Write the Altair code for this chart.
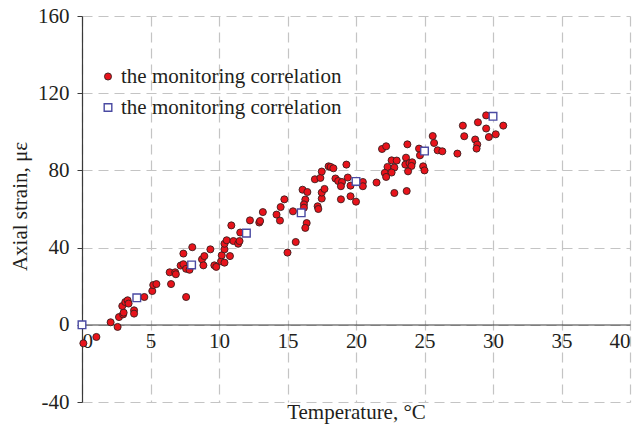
import altair as alt
import pandas as pd

# measured points (temperature °C, axial strain με)
temp_measured = [0.1, 1.05, 2.09, 2.6, 2.7, 3.0, 3.04, 2.94, 3.16, 3.33, 3.4, 3.8, 3.8, 4.55,
                 5.13, 5.2, 5.43, 6.5, 6.4, 6.8, 6.85, 7.6, 7.2, 7.4, 7.6, 7.85, 7.4, 8.05,
                 8.76, 8.93, 8.86, 9.37, 9.66, 9.8, 10.15, 10.2, 10.4, 10.4, 10.4, 10.56, 10.8,
                 10.9, 11.05, 11.4, 11.5, 11.55, 12.26, 12.94, 13.0, 13.2, 14.2, 14.45, 14.5,
                 14.77, 15.4, 15.0, 15.6, 16.4, 16.3, 16.1, 16.45, 16.3, 16.2, 16.2, 17.2, 17.25,
                 17.5, 17.5, 17.7, 17.0, 17.4, 17.5, 18.0, 18.15, 18.35, 18.5, 18.7, 18.98, 18.9,
                 19.3, 19.4, 19.6, 18.9, 19.6, 20.0, 20.5, 20.5, 21.5, 21.9, 22.2, 22.6, 22.97,
                 22.3, 22.8, 22.1, 22.6, 22.2, 22.8, 23.75, 24.6, 24.67, 23.65, 23.6, 23.9, 24.1,
                 24.05, 23.8, 24.9, 25.0, 23.7, 25.6, 25.7, 25.96, 26.3, 27.4, 27.8, 27.9, 28.9,
                 28.7, 28.85, 28.8, 29.5, 29.5, 29.7, 30.2, 30.75]
strain_measured = [-9.6, -6.3, 1.3, -1.1, 4.0, 5.4, 6.3, 9.7, 11.8, 12.7, 11.0, 7.5, 5.8, 14.4,
                   17.5, 20.6, 21.1, 21.1, 27.2, 27.2, 26.2, 14.4, 30.7, 31.4, 29.0, 28.5, 36.9, 40.2,
                   33.9, 35.6, 30.8, 39.1, 30.8, 30.0, 32.9, 36.0, 32.2, 39.1, 42.0, 43.8, 35.6,
                   51.5, 43.4, 42.0, 43.4, 47.8, 54.1, 53.0, 53.8, 58.4, 57.1, 54.0, 61.0,
                   65.0, 58.8, 37.4, 42.9, 52.7, 50.2, 70.0, 68.8, 64.9, 62.4, 60.7, 61.4, 60.0,
                   65.4, 68.5, 70.4, 75.4, 76.1, 79.4, 82.1, 81.8, 81.1, 75.8, 74.5, 74.0, 71.8,
                   83.0, 76.3, 72.1, 65.0, 66.6, 63.8, 74.0, 71.8, 73.7, 91.1, 92.5, 85.2, 85.1,
                   81.8, 81.5, 78.7, 78.9, 76.6, 68.3, 93.5, 91.3, 87.8, 86.6, 83.0, 83.8, 84.2,
                   82.3, 79.5, 82.1, 80.0, 69.3, 97.8, 94.2, 90.4, 89.9, 88.7, 103.2, 97.7, 104.9,
                   96.0, 93.4, 91.3, 108.5, 101.7, 97.3, 98.7, 103.2]

# correlation points
temp_corr = [0, 4, 8, 12, 16, 20, 25, 30]
strain_corr = [0, 14, 31, 47.5, 58, 74.3, 90, 108]

series_names = ["a", "b"]
legend_label = "the monitoring correlation"
x_ticks = [0, 5, 10, 15, 20, 25, 30, 35, 40]
y_ticks = [-40, 0, 40, 80, 120, 160]

df = pd.concat([
    pd.DataFrame({"T": temp_measured, "S": strain_measured, "series": series_names[0]}),
    pd.DataFrame({"T": temp_corr, "S": strain_corr, "series": series_names[1]}),
], ignore_index=True)

FONT = "'Liberation Serif', 'Times New Roman', Times, serif"
TXT = "#231f20"

leg = alt.Legend(
    title=None, orient="none", legendX=15.5, legendY=50, padding=0,
    labelExpr=f"'{legend_label}'", labelFont=FONT, labelFontSize=21, labelColor=TXT,
    labelOffset=2.5, labelLimit=0, rowPadding=9,
)

chart = alt.Chart(df).mark_point(opacity=1).encode(
    x=alt.X("T:Q", scale=alt.Scale(domain=[0, 40], nice=False, zero=False),
            axis=alt.Axis(values=x_ticks, title="Temperature, °C", offset=-77.5,
                          tickSize=0, labelPadding=6, titleY=88, titleBaseline="middle",
                          titleAlign="center", labelExpr="datum.value + ''")),
    y=alt.Y("S:Q", scale=alt.Scale(domain=[-40, 160], nice=False, zero=False),
            axis=alt.Axis(values=y_ticks, title="Axial strain, με", tickSize=5,
                          labelPadding=8, titleX=-62, titleY=190, titleAngle=-90,
                          titleBaseline="middle", titleAlign="center",
                          labelExpr="datum.value + ''")),
    shape=alt.Shape("series:N", scale=alt.Scale(domain=series_names, range=["circle", "square"]), legend=leg),
    fill=alt.Fill("series:N", scale=alt.Scale(domain=series_names, range=["#e8131b", "#ffffff"]), legend=leg),
    stroke=alt.Stroke("series:N", scale=alt.Scale(domain=series_names, range=["#3a1e1e", "#4a4aa2"]), legend=leg),
    strokeWidth=alt.StrokeWidth("series:N", scale=alt.Scale(domain=series_names, range=[0.9, 1.4]), legend=leg),
    size=alt.Size("series:N", scale=alt.Scale(domain=series_names, range=[50, 58]), legend=leg),
).properties(
    width=548, height=386,
    autosize=alt.AutoSizeParams(type="none"),
    padding={"left": 82, "top": 16, "right": 11, "bottom": 31},
).configure_view(stroke=None).configure_axis(
    grid=True, gridColor="#c4c4c4", gridDash=[10, 6], gridWidth=1.2,
    domainColor="#3a3a3a", domainWidth=1.2, tickColor="#3a3a3a",
    labelFont=FONT, labelFontSize=21, labelColor=TXT,
    titleFont=FONT, titleFontSize=21, titleColor=TXT, titleFontWeight="normal",
)

chart.save("out.html", embed_options={"renderer": "svg", "actions": False})
